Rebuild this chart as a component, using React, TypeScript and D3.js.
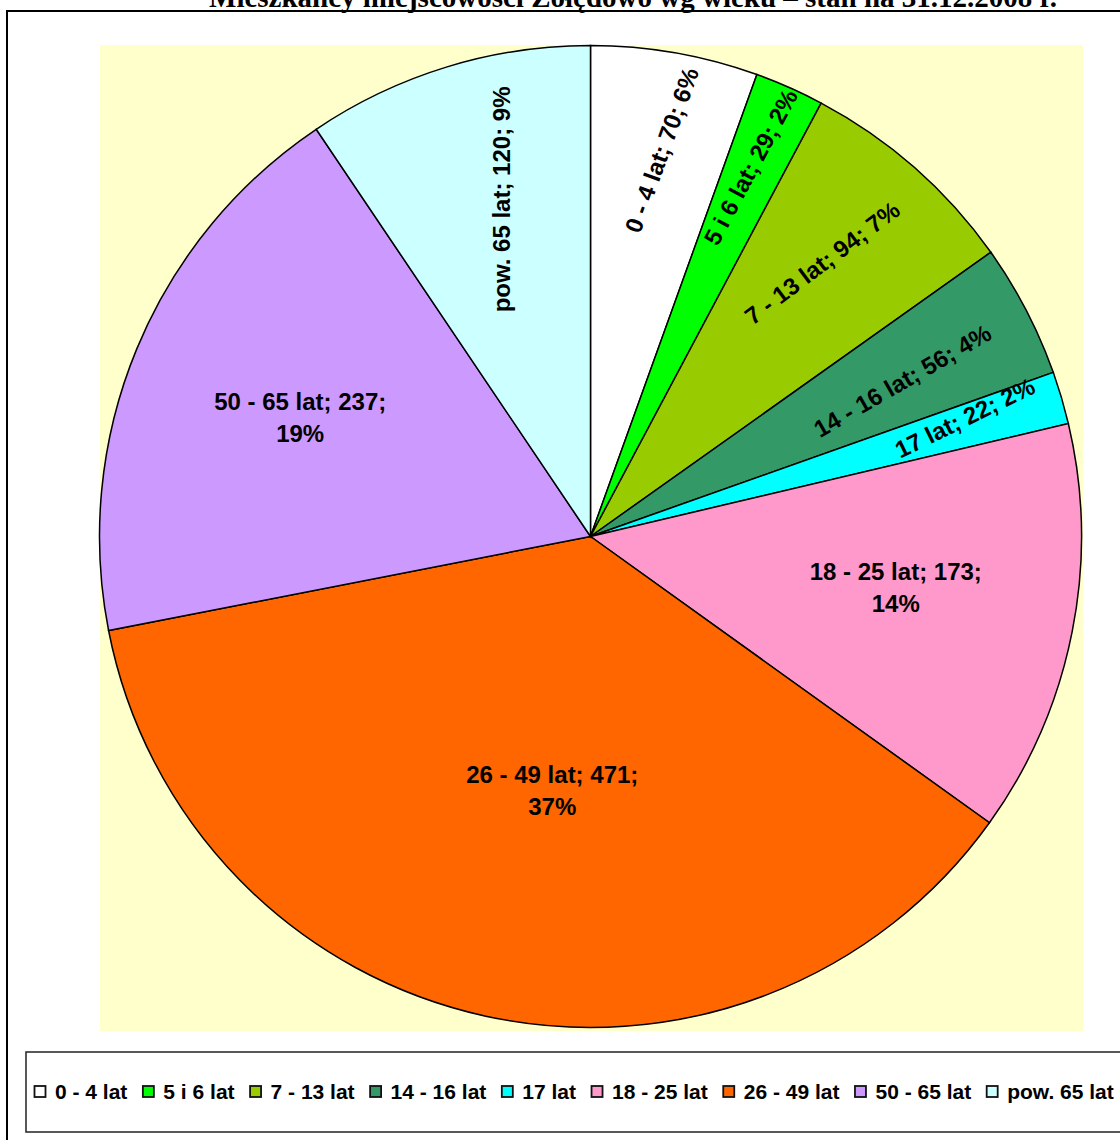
import React, { useMemo } from "react";
import * as d3 from "d3";

const categories = [
  "0 - 4 lat",
  "5 i 6 lat",
  "7 - 13 lat",
  "14 - 16 lat",
  "17 lat",
  "18 - 25 lat",
  "26 - 49 lat",
  "50 - 65 lat",
  "pow. 65 lat",
];
const values = [70, 29, 94, 56, 22, 173, 471, 237, 120];
const percents = ["6%", "2%", "7%", "4%", "2%", "14%", "37%", "19%", "9%"];
const colors = [
  "#FFFFFF",
  "#00FF00",
  "#99CC00",
  "#339966",
  "#00FFFF",
  "#FF99CC",
  "#FF6600",
  "#CC99FF",
  "#CCFFFF",
];

const title = "Mieszkańcy miejscowości Żołędowo wg wieku – stan na 31.12.2008 r.";

// label placement: fraction of radius, angle nudge (deg), rotation (deg), two-line or not
const labelStyle = [
  { frac: 0.8, da: 0.6, rot: -70, wrap: false },
  { frac: 0.82, da: -0.4, rot: -62, wrap: false },
  { frac: 0.73, da: -1, rot: -37, wrap: false },
  { frac: 0.71, da: 1, rot: -30, wrap: false },
  { frac: 0.8, da: -1.1, rot: -26, wrap: false },
  { frac: 0.63, da: -1.9, rot: 0, wrap: true },
  { frac: 0.52, da: -3.7, rot: 0, wrap: true },
  { frac: 0.64, da: 0, rot: 0, wrap: true },
  { frac: 0.71, da: 2.2, rot: -90, wrap: false },
];

const W = 1120;
const H = 1140;
const plot = { x: 100, y: 45, w: 983, h: 986 };
const cx = 590.5;
const cy = 536.5;
const R = 491;

const sans = "'Liberation Sans', Arial, sans-serif";

function measure(text: string, font: string) {
  const c = document.createElement("canvas").getContext("2d")!;
  c.font = font;
  return c.measureText(text).width;
}

export default function App() {
  const arcs = useMemo(
    () =>
      d3
        .pie<number>()
        .sort(null)
        .value((d) => d)(values),
    []
  );
  const arc = d3.arc<d3.PieArcDatum<number>>().innerRadius(0).outerRadius(R);

  const legendFont = `bold 21px ${sans}`;
  let lx = 34;
  const legendItems = categories.map((c, i) => {
    const x = lx;
    lx += 21 + measure(c, legendFont) + 15;
    return { c, i, x };
  });

  return (
    <svg
      width={W}
      height={H}
      style={{ position: "absolute", left: 0, top: 0, background: "#fff" }}
    >
      <text
        x={633}
        y={7}
        textAnchor="middle"
        fontFamily="'Liberation Serif', 'Times New Roman', serif"
        fontWeight="bold"
        fontSize={29}
        fill="#000"
      >
        {title}
      </text>
      <rect x={7} y={11} width={W + 20} height={H + 20} fill="none" stroke="#000" strokeWidth={2} />
      <rect x={plot.x} y={plot.y} width={plot.w} height={plot.h} fill="#FFFFCC" />
      <g transform={`translate(${cx},${cy})`}>
        {arcs.map((a, i) => (
          <path key={i} d={arc(a) || ""} fill={colors[i]} stroke="#000" strokeWidth={1.5} />
        ))}
        {arcs.map((a, i) => {
          const s = labelStyle[i];
          const mid = (a.startAngle + a.endAngle) / 2 + (s.da * Math.PI) / 180;
          const r = R * s.frac;
          const x = Math.sin(mid) * r;
          const y = -Math.cos(mid) * r;
          const line1 = `${categories[i]}; ${values[i]};`;
          return (
            <text
              key={i}
              transform={`translate(${x},${y}) rotate(${s.rot})`}
              textAnchor="middle"
              fontFamily={sans}
              fontWeight="bold"
              fontSize={24}
              fill="#000"
            >
              {s.wrap ? (
                <>
                  <tspan x={0} y={-6}>{line1}</tspan>
                  <tspan x={0} y={26}>{percents[i]}</tspan>
                </>
              ) : (
                <tspan x={0} y={8}>{`${line1} ${percents[i]}`}</tspan>
              )}
            </text>
          );
        })}
      </g>
      <rect x={26} y={1052} width={W} height={80} fill="#fff" stroke="#222" strokeWidth={1.5} />
      {legendItems.map(({ c, i, x }) => (
        <g key={c}>
          <rect x={x + 0.5} y={1086} width={11} height={11} fill={colors[i]} stroke="#111" strokeWidth={1.8} />
          <text x={x + 21} y={1099} fontFamily={sans} fontWeight="bold" fontSize={21} fill="#000">
            {c}
          </text>
        </g>
      ))}
    </svg>
  );
}
